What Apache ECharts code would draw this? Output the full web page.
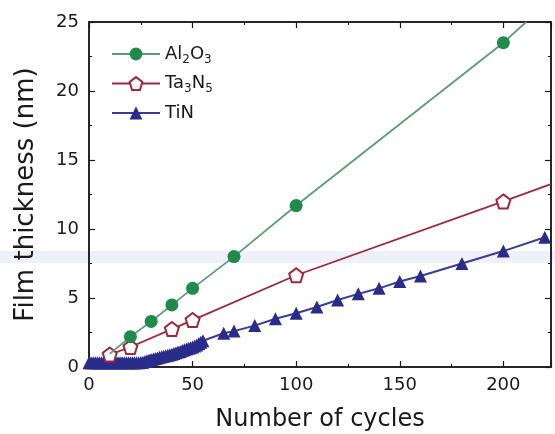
<!DOCTYPE html>
<html>
<head>
<meta charset="utf-8">
<script src="https://cdn.jsdelivr.net/npm/echarts@6/dist/echarts.min.js"></script>
<style>html,body{margin:0;padding:0;background:#fff}#c{width:555px;height:434px}</style>
</head>
<body>
<div id="c"></div>
<script>
// ---- data ----
const al2o3Cycles    = [10, 20, 30, 40, 50, 70, 100, 200, 211];
const al2o3Thickness = [0.95, 2.2, 3.3, 4.5, 5.7, 8.0, 11.7, 23.5, 25];
const al2o3Markers   = [false, true, true, true, true, true, true, true, false];

const ta3n5Cycles    = [10, 20, 40, 50, 100, 200, 223];
const ta3n5Thickness = [0.9, 1.45, 2.75, 3.4, 6.65, 12.0, 13.25];
const ta3n5Markers   = [true, true, true, true, true, true, false];

const tinCycles = [0,1,2,3,4,5,6,7,8,9,10,11,12,13,14,15,16,17,18,19,20,21,22,23,24,25,26,27,
                   28,29,30,31,32,33,34,35,36,37,38,39,40,41,42,43,44,45,46,47,48,49,50,51,52,53,54,55,
                   65,70,80,90,100,110,120,130,140,150,160,180,200,220];
const tinThickness = [0.3,0.3,0.3,0.3,0.3,0.3,0.3,0.3,0.3,0.3,0.3,0.3,0.3,0.3,0.3,0.3,0.3,0.3,0.3,0.3,0.3,0.3,0.3,0.3,0.3,0.32,0.35,0.4,
                   0.45,0.5,0.55,0.58,0.62,0.66,0.7,0.74,0.78,0.82,0.85,0.88,0.92,0.97,1.03,1.08,1.13,1.19,1.25,1.3,1.35,1.4,1.45,1.52,1.6,1.7,1.8,1.9,
                   2.45,2.6,3.0,3.5,3.9,4.35,4.85,5.3,5.7,6.2,6.6,7.5,8.4,9.4];

const xTicks = [0, 50, 100, 150, 200];
const yTicks = [0, 5, 10, 15, 20, 25];

// ---- chart ----
const pentagon = 'path://M50,2 L97.6,36.6 L79.4,92.5 L20.6,92.5 L2.4,36.6 Z';
function pts(xs, ys, marks) {
  return xs.map((x, i) => {
    const o = { value: [x, ys[i]] };
    if (marks && !marks[i]) o.symbol = 'none';
    return o;
  });
}
const font = 'DejaVu Sans, Verdana, sans-serif';
const ink = '#1a1a1a';
const chart = echarts.init(document.getElementById('c'), null, { renderer: 'canvas' });
const axisLine = () => ({ show: true, onZero: false, lineStyle: { color: ink, width: 1.5 } });
const tick = () => ({ show: true, inside: true, length: 6, lineStyle: { color: ink, width: 1.2 } });
const minor = () => ({ show: true, splitNumber: 2, length: 3, lineStyle: { color: ink, width: 1 } });
const gridBox = { left: 89, right: 4, top: 22, bottom: 67, outerBoundsMode: 'none', containLabel: false };

chart.setOption({
  animation: false,
  backgroundColor: '#fff',
  graphic: [{
    type: 'rect', z: -10, silent: true,
    shape: { x: 0, y: 251, width: 555, height: 12 },
    style: { fill: 'rgba(205,212,240,0.35)' }
  }],
  grid: [
    Object.assign({ show: true, borderColor: ink, borderWidth: 1.5, backgroundColor: 'transparent' }, gridBox),
    Object.assign({ show: false }, gridBox)
  ],
  legend: {
    left: 106, top: 40, orient: 'vertical', itemGap: 9,
    itemWidth: 48, itemHeight: 16,
    textStyle: {
      fontFamily: font, fontSize: 18, color: ink,
      rich: { s: { fontFamily: font, fontSize: 12, color: ink, verticalAlign: 'bottom', padding: [11, 0, 0, 0] },
              n: { fontFamily: font, fontSize: 18, color: ink } }
    },
    formatter: function (name) {
      if (name === 'Al2O3') return '{n|Al}{s|2}{n|O}{s|3}';
      if (name === 'Ta3N5') return '{n|Ta}{s|3}{n|N}{s|5}';
      return '{n|' + name + '}';
    },
    data: ['Al2O3', 'Ta3N5', 'TiN']
  },
  xAxis: [{
    type: 'value', gridIndex: 0, position: 'bottom', min: 0, max: 223, interval: 50,
    name: 'Number of cycles', nameLocation: 'middle', nameGap: 41,
    nameTextStyle: { fontFamily: font, fontSize: 24, color: ink },
    axisLine: axisLine(), axisTick: tick(), minorTick: minor(), splitLine: { show: false },
    axisLabel: { fontFamily: font, fontSize: 18, color: ink, margin: 9, showMaxLabel: false,
      formatter: v => xTicks.includes(v) ? String(v) : '' }
  }, {
    type: 'value', gridIndex: 1, position: 'top', min: 0, max: 223, interval: 50,
    axisLine: axisLine(), axisTick: tick(), minorTick: minor(), splitLine: { show: false },
    axisLabel: { show: false }
  }],
  yAxis: [{
    type: 'value', gridIndex: 0, position: 'left', min: 0, max: 25, interval: 5,
    name: 'Film thickness (nm)', nameLocation: 'middle', nameGap: 50,
    nameTextStyle: { fontFamily: font, fontSize: 26, color: ink },
    axisLine: axisLine(), axisTick: tick(), minorTick: minor(), splitLine: { show: false },
    axisLabel: { fontFamily: font, fontSize: 18, color: ink, margin: 10,
      formatter: v => yTicks.includes(v) ? String(v) : '' }
  }, {
    type: 'value', gridIndex: 1, position: 'right', min: 0, max: 25, interval: 5,
    axisLine: axisLine(), axisTick: tick(), minorTick: minor(), splitLine: { show: false },
    axisLabel: { show: false }
  }],
  series: [{
    name: 'TiN', type: 'line', z: 2,
    data: pts(tinCycles, tinThickness),
    symbol: 'triangle', symbolSize: 13,
    lineStyle: { color: '#3a3d95', width: 2 },
    itemStyle: { color: '#2a2c8c', borderColor: '#2a2c8c', borderWidth: 0 }
  }, {
    name: 'Ta3N5', type: 'line', z: 3,
    data: pts(ta3n5Cycles, ta3n5Thickness, ta3n5Markers),
    symbol: pentagon, symbolSize: 14,
    lineStyle: { color: '#9c2a3a', width: 1.8 },
    itemStyle: { color: '#fff', borderColor: '#9c2a3a', borderWidth: 2 }
  }, {
    name: 'Al2O3', type: 'line', z: 4,
    data: pts(al2o3Cycles, al2o3Thickness, al2o3Markers),
    symbol: 'circle', symbolSize: 13,
    lineStyle: { color: '#5f9a7c', width: 1.8 },
    itemStyle: { color: '#1f8a4c', borderColor: '#1f8a4c', borderWidth: 0 }
  }, {
    name: 'frame', type: 'line', xAxisIndex: 1, yAxisIndex: 1, silent: true,
    data: pts(ta3n5Cycles, ta3n5Thickness), symbol: 'none',
    lineStyle: { opacity: 0 }
  }]
});
</script>
</body>
</html>
